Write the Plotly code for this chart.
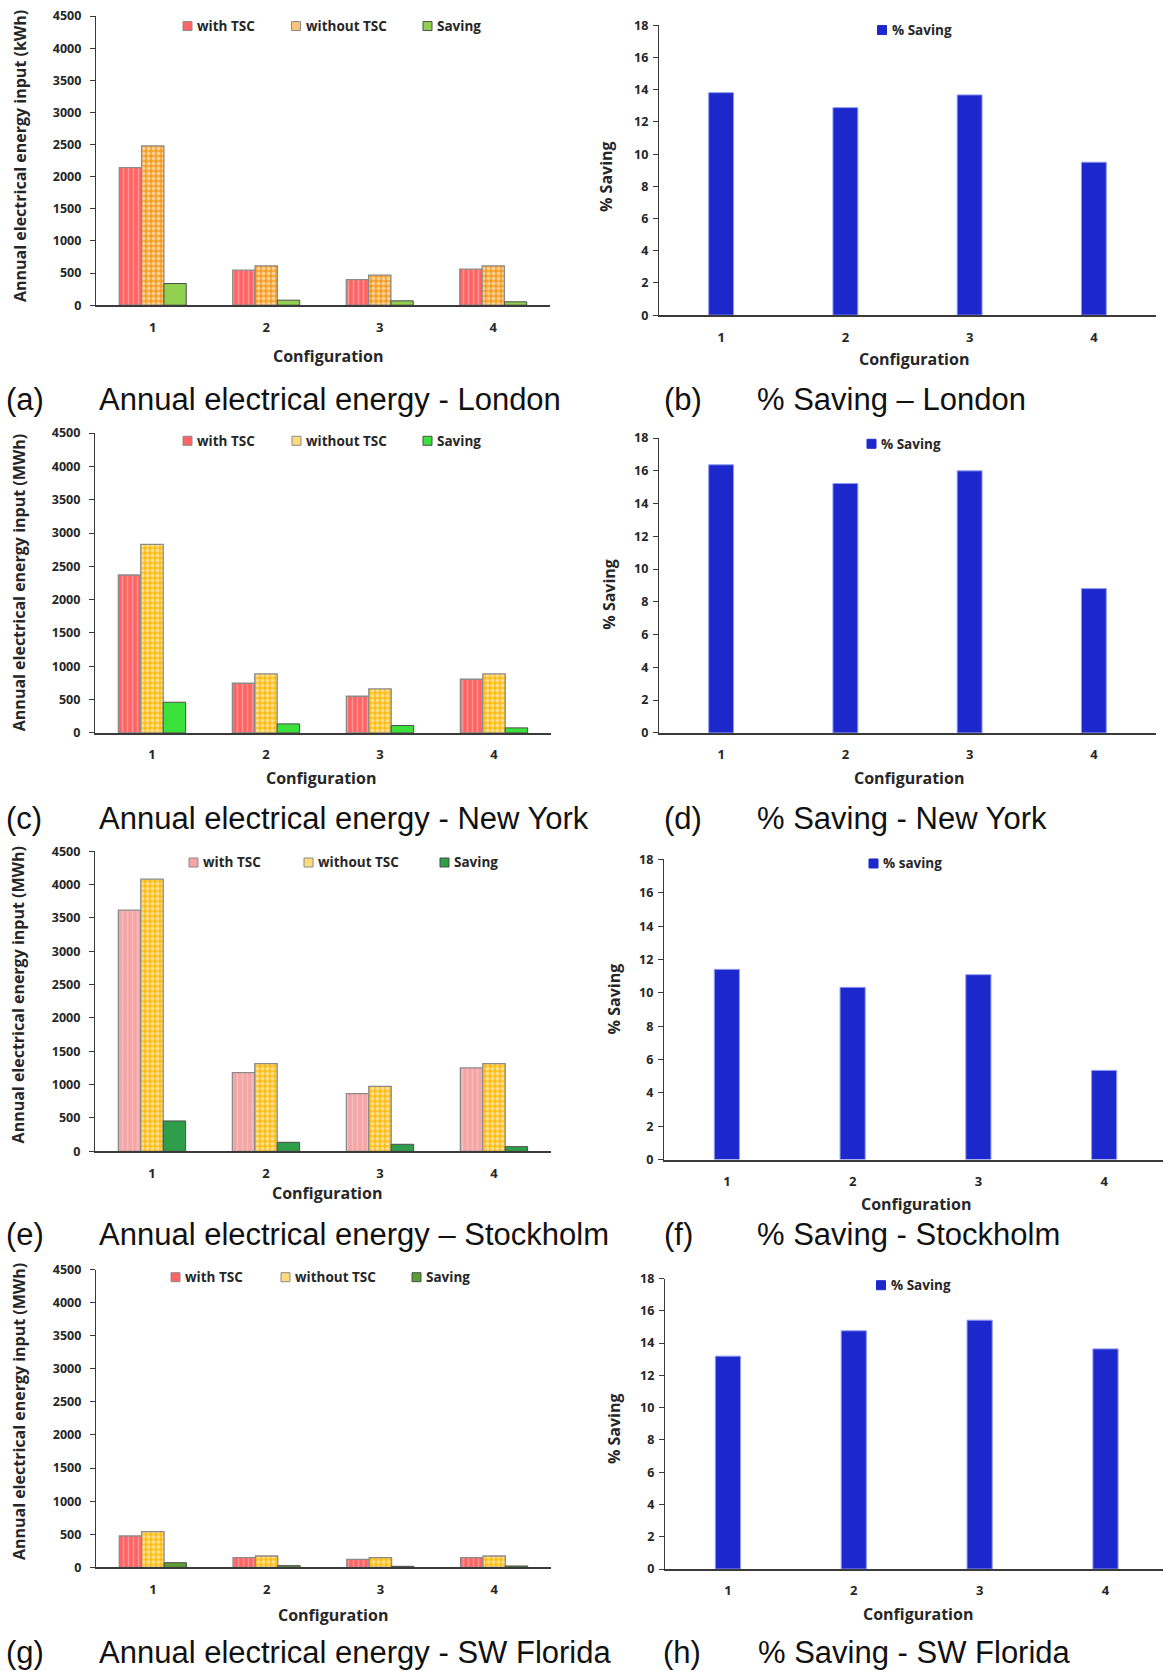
import plotly.graph_objects as go

W, H = 1163, 1671

# ---------------- data ----------------
configs = [1, 2, 3, 4]
config_labels = ["1", "2", "3", "4"]
series_names = ["with TSC", "without TSC", "Saving"]

london_with = [2140, 544, 399, 560]
london_without = [2478, 612, 467, 612]
london_saving = [337, 78, 67, 52]
london_pct = [13.82, 12.89, 13.68, 9.50]

newyork_with = [2370, 745, 550, 805]
newyork_without = [2830, 885, 660, 885]
newyork_saving = [460, 135, 110, 75]
newyork_pct = [16.37, 15.23, 16.00, 8.81]

stockholm_with = [3615, 1180, 865, 1250]
stockholm_without = [4080, 1315, 975, 1315]
stockholm_saving = [455, 135, 105, 70]
stockholm_pct = [11.41, 10.33, 11.09, 5.35]

florida_with = [473, 146, 121, 146]
florida_without = [538, 171, 146, 171]
florida_saving = [70, 25, 15, 20]
florida_pct = [13.19, 14.76, 15.42, 13.64]

energy_ticks = list(range(0, 4501, 500))
pct_ticks = list(range(0, 19, 2))

captions = [
    ("(a)", "Annual electrical energy - London"),
    ("(b)", "% Saving \u2013 London"),
    ("(c)", "Annual electrical energy - New York"),
    ("(d)", "% Saving - New York"),
    ("(e)", "Annual electrical energy \u2013 Stockholm"),
    ("(f)", "% Saving - Stockholm"),
    ("(g)", "Annual electrical energy - SW Florida"),
    ("(h)", "% Saving - SW Florida"),
]
energy_titles = [
    "Annual electrical energy input (kWh)",
    "Annual electrical energy input (MWh)",
    "Annual electrical energy input (MWh)",
    "Annual electrical energy input (MWh)",
]
pct_legend_names = ["% Saving", "% Saving", "% saving", "% Saving"]

# ---------------- styling / geometry (pixels) ----------------
FONT = "'Open Sans', 'Noto Sans', sans-serif"
CAP_FONT = "Liberation Sans, Arial, sans-serif"
AXIS_COL = "#3a3a3a"
TEXT_COL = "#262626"

energy_panels = [
    dict(data=(london_with, london_without, london_saving),
         x0=96, x1=550, ytop=15.0, ybot=304.3,
         with_bg="#ff6363", with_fg="#ffc9c9", wo_fg="#f59d22", wo_leg="#f9c47a",
         sav="#92d050",
         leg_y=25, leg_x=(183, 291.5, 423), xt=(328, 355), yt=(20, 155), cap_y=398.5),
    dict(data=(newyork_with, newyork_without, newyork_saving),
         x0=95, x1=551, ytop=432.3, ybot=732.3,
         with_bg="#ff6363", with_fg="#ffc9c9", wo_fg="#fdbd14", wo_leg="#fdda7a",
         sav="#3be23b",
         leg_y=440, leg_x=(183, 292, 423), xt=(321, 777), yt=(18.5, 582), cap_y=817.5),
    dict(data=(stockholm_with, stockholm_without, stockholm_saving),
         x0=95, x1=551, ytop=850.7, ybot=1151.0,
         with_bg="#f5a5a5", with_fg="#fcd8d8", wo_fg="#fdbd14", wo_leg="#fdda7a",
         sav="#2f9e4a",
         leg_y=862, leg_x=(189, 304, 440), xt=(327, 1193), yt=(18, 995), cap_y=1234.5),
    dict(data=(florida_with, florida_without, florida_saving),
         x0=96, x1=551, ytop=1269.3, ybot=1567.3,
         with_bg="#ff6363", with_fg="#ffc9c9", wo_fg="#fdbd14", wo_leg="#fdda7a",
         sav="#5a9e34",
         leg_y=1277, leg_x=(171, 281, 412), xt=(333, 1615), yt=(19, 1412), cap_y=1652.5),
]

pct_panels = [
    dict(data=london_pct, x0=659, x1=1156, xr=4.5, ytop=24.3, ybot=314.3,
         leg_y=29, leg_x=877.5, xt=(913.5, 358), yt=(606, 176), cap_y=398.5),
    dict(data=newyork_pct, x0=659, x1=1156, xr=4.5, ytop=437.3, ybot=732.3,
         leg_y=443, leg_x=867, xt=(909, 777), yt=(609, 594), cap_y=817.5),
    dict(data=stockholm_pct, x0=664, x1=1163, xr=4.468, ytop=859.0, ybot=1159.3,
         leg_y=863, leg_x=869, xt=(915.7, 1204), yt=(614, 999), cap_y=1234.5),
    dict(data=florida_pct, x0=665, x1=1163, xr=4.457, ytop=1278.3, ybot=1569.0,
         leg_y=1285, leg_x=876.5, xt=(917.7, 1614), yt=(614, 1429), cap_y=1652.5),
]

# the page adds a small vertical offset/scale; positions are mapped through it
Y_SCALE = 0.9905
Y_SHIFT = 8.0


def px(x):
    return x / W


def py(y):
    return 1 - (y / Y_SCALE - Y_SHIFT) / H


def bold(s):
    return "<b>" + s + "</b>"


fig = go.Figure()
layout_axes = {}
annotations = []
shapes = []


def axis_pair(idx, p, yrange, yticks, standoff):
    sx = "" if idx == 1 else str(idx)
    tick_font = dict(family=FONT, size=12.5, color=TEXT_COL, weight=700)
    layout_axes["xaxis" + sx] = dict(
        domain=[px(p["x0"]), px(p["x1"])], anchor="y" + sx,
        range=[0.5, p.get("xr", 4.5)], tickmode="array",
        tickvals=configs, ticktext=[bold(t) for t in config_labels], ticks="",
        showline=True, linecolor=AXIS_COL, linewidth=1.6,
        showgrid=False, zeroline=False, fixedrange=True,
        tickfont=dict(family=FONT, size=13, color=TEXT_COL, weight=700),
        ticklabelstandoff=9,
    )
    layout_axes["yaxis" + sx] = dict(
        domain=[py(p["ybot"]), py(p["ytop"])], anchor="x" + sx,
        range=yrange, tickmode="array", tickvals=yticks,
        ticktext=[bold(str(v)) for v in yticks],
        ticks="outside", ticklen=5, tickcolor=AXIS_COL, tickwidth=1.2,
        showline=True, linecolor=AXIS_COL, linewidth=1.3,
        showgrid=False, zeroline=False, fixedrange=True,
        tickfont=tick_font, ticklabelstandoff=standoff,
    )
    return "x" + sx, "y" + sx


def axis_titles(p, ytitle):
    f = dict(family=FONT, size=16, color=TEXT_COL, weight=700)
    annotations.append(dict(
        x=px(p["xt"][0]), y=py(p["xt"][1]), xref="paper", yref="paper",
        text=bold("Configuration"), showarrow=False, xanchor="center", yanchor="middle",
        font=f))
    annotations.append(dict(
        x=px(p["yt"][0]), y=py(p["yt"][1]), xref="paper", yref="paper",
        text=bold(ytitle), textangle=-90, showarrow=False, xanchor="center",
        yanchor="middle", font=f))


def legend_entry(x_left, y_mid, fill, edge, label):
    s = 4.5
    shapes.append(dict(type="rect", xref="paper", yref="paper",
                       x0=px(x_left), x1=px(x_left + 2 * s),
                       y0=py(y_mid + s), y1=py(y_mid - s),
                       fillcolor=fill, line=dict(color=edge, width=1)))
    annotations.append(dict(
        x=px(x_left + 12), y=py(y_mid), xref="paper", yref="paper",
        text=bold(label), showarrow=False, xanchor="left", yanchor="middle",
        font=dict(family=FONT, size=13.5, color=TEXT_COL, weight=700)))


def caption(letter, text, x_letter, x_text, y):
    for xx, tt in ((x_letter, letter), (x_text, text)):
        annotations.append(dict(
            x=px(xx), y=py(y), xref="paper", yref="paper", text=tt,
            showarrow=False, xanchor="left", yanchor="middle",
            font=dict(family=CAP_FONT, size=31, color="#111111")))


# ---------------- energy charts (left column) ----------------
for i, p in enumerate(energy_panels):
    idx = 2 * i + 1
    xa, ya = axis_pair(idx, p, [0, 4500], energy_ticks, 6)
    with_v, without_v, saving_v = p["data"]
    fig.add_trace(go.Bar(
        x=configs, y=with_v, name=series_names[0], xaxis=xa, yaxis=ya, showlegend=False,
        marker=dict(color=p["with_bg"], line=dict(color="#8a8a8a", width=1.3),
                    pattern=dict(shape="|", bgcolor=p["with_bg"], fgcolor=p["with_fg"],
                                 size=5, solidity=0.3))))
    fig.add_trace(go.Bar(
        x=configs, y=without_v, name=series_names[1], xaxis=xa, yaxis=ya, showlegend=False,
        marker=dict(color=p["wo_fg"], line=dict(color="#8a8a8a", width=1.3),
                    pattern=dict(shape=".", bgcolor=p["wo_fg"], fgcolor="white",
                                 size=5, solidity=0.48))))
    fig.add_trace(go.Bar(
        x=configs, y=saving_v, name=series_names[2], xaxis=xa, yaxis=ya, showlegend=False,
        marker=dict(color=p["sav"], line=dict(color="#4d4d4d", width=1))))

    lx = p["leg_x"]
    legend_entry(lx[0], p["leg_y"], p["with_bg"], "#8a8a8a", series_names[0])
    legend_entry(lx[1], p["leg_y"], p["wo_leg"], "#8a8a8a", series_names[1])
    legend_entry(lx[2], p["leg_y"], p["sav"], "#4d4d4d", series_names[2])
    axis_titles(p, energy_titles[i])
    caption(*captions[2 * i], 4, 97, p["cap_y"])

# ---------------- % saving charts (right column) ----------------
for i, p in enumerate(pct_panels):
    idx = 2 * i + 2
    xa, ya = axis_pair(idx, p, [0, 18], pct_ticks, 2)
    fig.add_trace(go.Bar(
        x=configs, y=p["data"], name=pct_legend_names[i], xaxis=xa, yaxis=ya,
        showlegend=False, width=0.2, offset=-0.1,
        marker=dict(color="#1c28cc", line=dict(color="#8f9bf0", width=1))))
    legend_entry(p["leg_x"], p["leg_y"], "#1c28cc", "#1c28cc", pct_legend_names[i])
    axis_titles(p, "% Saving")
    x_letter = 662 if i < 3 else 661
    x_text = 755 if i < 3 else 756
    caption(*captions[2 * i + 1], x_letter, x_text, p["cap_y"])

fig.update_layout(
    width=W, height=H, margin=dict(l=0, r=0, t=0, b=0),
    paper_bgcolor="white", plot_bgcolor="white",
    barmode="group", bargap=0.41, bargroupgap=0,
    showlegend=False, annotations=annotations, shapes=shapes,
    **layout_axes,
)

fig.write_html("out.html", config={"displayModeBar": False})
